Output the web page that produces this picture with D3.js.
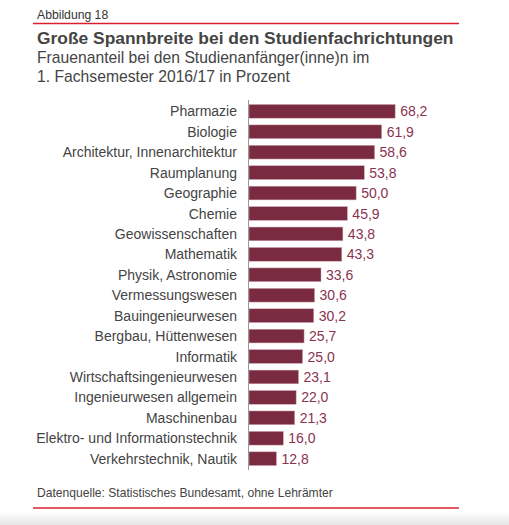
<!DOCTYPE html>
<html lang="de">
<head>
    <meta charset="UTF-8">
    <title>Abbildung 18</title>
    <script src="https://cdn.jsdelivr.net/npm/d3@7"></script>
    <style>
        body{margin:0;background:#fff;font-family:"Liberation Sans",Arial,sans-serif;}
    </style>
</head>
<body>
<div class="chart"></div>
<script>
    //data
    let categories=["Pharmazie","Biologie","Architektur, Innenarchitektur","Raumplanung","Geographie","Chemie",
        "Geowissenschaften","Mathematik","Physik, Astronomie","Vermessungswesen","Bauingenieurwesen",
        "Bergbau, Hüttenwesen","Informatik","Wirtschaftsingenieurwesen ","Ingenieurwesen allgemein",
        "Maschinenbau","Elektro- und Informationstechnik","Verkehrstechnik, Nautik"]
    let values=[68.2,61.9,58.6,53.8,50.0,45.9,43.8,43.3,33.6,30.6,30.2,25.7,25.0,23.1,22.0,21.3,16.0,12.8]
    let fmt=d=>d3.format(".1f")(d).replace(".",",")

    let W=509,H=525
    let svg=d3.select('.chart').append('svg').attr('width',W).attr('height',H)

    //bottom page shade
    let grad=svg.append('defs').append('linearGradient').attr('id','shade').attr('x1',0).attr('x2',0).attr('y1',0).attr('y2',1)
    grad.append('stop').attr('offset','0%').attr('stop-color','#ffffff')
    grad.append('stop').attr('offset','100%').attr('stop-color','#e6e6e6')
    svg.append('rect').attr('x',0).attr('y',512).attr('width',W).attr('height',H-512).attr('fill','url(#shade)')

    //header
    svg.append('text').attr('x',37).attr('y',18.5).attr('font-size',12.2).attr('fill','#333').text('Abbildung 18')
    svg.append('line').attr('x1',33).attr('x2',459).attr('y1',23.5).attr('y2',23.5).attr('stroke','#d9202f').attr('stroke-width',1.3)
    svg.append('text').attr('x',37).attr('y',44.3).attr('font-size',17.4).attr('font-weight','bold').attr('fill','#444')
        .text('Große Spannbreite bei den Studienfachrichtungen')
    svg.append('text').attr('x',37).attr('y',63.3).attr('font-size',15.7).attr('fill','#444')
        .text('Frauenanteil bei den Studienanfänger(inne)n im')
    svg.append('text').attr('x',37).attr('y',81.7).attr('font-size',15.7).attr('fill','#444')
        .text('1. Fachsemester 2016/17 in Prozent')

    //scales
    let x0=249
    let xScale=d3.scaleLinear().domain([0,70]).range([0,150])
    let yScale=d3.scaleBand().domain(categories).range([101,469]).paddingInner(0.33).paddingOuter(0.17)

    let g=svg.append('g').attr('transform','translate('+x0+',0)')

    //bars
    g.selectAll('rect.bar').data(values).enter().append('rect').attr('class','bar')
        .attr('x',0).attr('y',(d,i)=>yScale(categories[i]))
        .attr('width',d=>xScale(d)).attr('height',yScale.bandwidth())
        .attr('fill','#7b2b41').attr('stroke','#c9a3ad').attr('stroke-width',0.5)

    //value labels
    g.selectAll('text.val').data(values).enter().append('text').attr('class','val')
        .attr('x',d=>xScale(d)+5).attr('y',(d,i)=>yScale(categories[i])+yScale.bandwidth()/2)
        .attr('dy','0.36em').attr('font-size',14).attr('fill','#8a3350').text(d=>fmt(d))

    //axis
    let yAxis=d3.axisLeft(yScale).tickSize(0).tickPadding(12)
    let ax=g.append('g').call(yAxis)
    ax.select('.domain').remove()
    ax.selectAll('text').attr('font-size',14).attr('fill','#444').attr('dy','0.36em')
        .attr('font-family','"Liberation Sans",Arial,sans-serif')
    g.append('line').attr('x1',-0.5).attr('x2',-0.5).attr('y1',100).attr('y2',470).attr('stroke','#999').attr('stroke-width',1)

    //footer
    svg.append('text').attr('x',37).attr('y',497).attr('font-size',12.1).attr('fill','#444')
        .text('Datenquelle: Statistisches Bundesamt, ohne Lehrämter')
    svg.append('line').attr('x1',33).attr('x2',459).attr('y1',508).attr('y2',508).attr('stroke','#d9202f').attr('stroke-width',1.3)
</script>
</body>
</html>
